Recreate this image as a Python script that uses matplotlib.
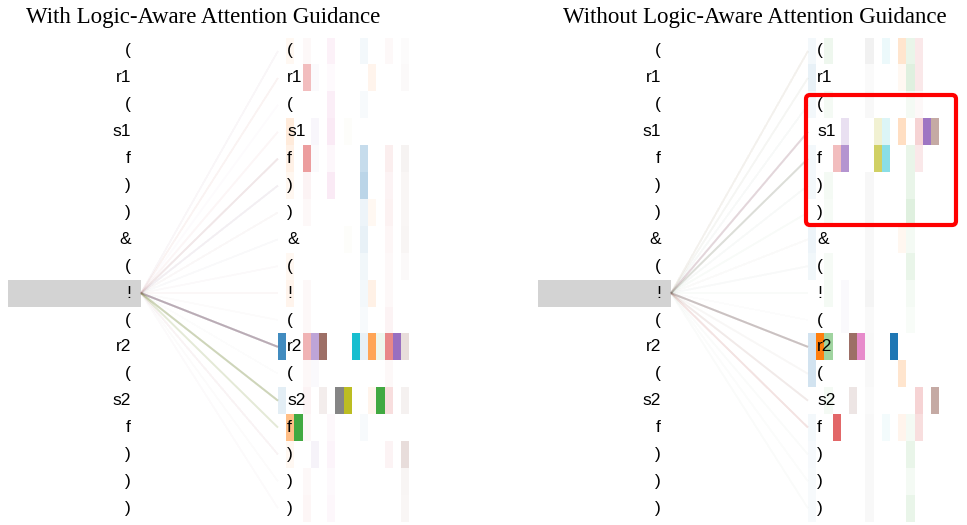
import matplotlib.pyplot as plt
from matplotlib.patches import Rectangle, FancyBboxPatch

plt.rcParams['font.family'] = ['Liberation Sans', 'DejaVu Sans']

tokens = ["(", "r1", "(", "s1", "f", ")", ")", "&", "(", "!", "(", "r2", "(", "s2", "f", ")", ")", ")"]
query = 9
titles = ["With Logic-Aware Attention Guidance", "Without Logic-Aware Attention Guidance"]
head_colors = ['#1f77b4', '#ff7f0e', '#2ca02c', '#d62728', '#9467bd',
               '#8c564b', '#e377c2', '#7f7f7f', '#bcbd22', '#17becf']

# attention from "!" to every token, 16 heads (rows = key tokens)
attn_with = [
    [0, .05, 0, .03, 0, 0, .1, 0, 0, 0, .05, 0, 0, .03, 0, .02],
    [0, 0, 0, .3, .03, 0, .03, 0, 0, 0, 0, .08, 0, 0, 0, .03],
    [0, 0, 0, 0, 0, 0, .12, 0, 0, 0, .03, 0, 0, 0, 0, 0],
    [0, .15, 0, 0, .06, 0, .15, 0, .02, 0, 0, 0, 0, 0, 0, 0],
    [0, .1, 0, .45, .03, 0, .06, 0, 0, 0, .25, 0, 0, .08, 0, .07],
    [0, .06, 0, .05, 0, 0, .15, 0, 0, 0, .3, 0, 0, .05, 0, .05],
    [0, 0, 0, .03, 0, 0, 0, 0, 0, 0, .08, .05, 0, .06, 0, .05],
    [0, 0, 0, 0, 0, 0, 0, 0, .02, 0, .1, 0, 0, .04, 0, .06],
    [0, .05, 0, 0, 0, 0, 0, 0, 0, 0, .06, 0, 0, .03, 0, .03],
    [0, .08, 0, .03, 0, 0, 0, 0, 0, 0, .05, .1, 0, .03, 0, 0],
    [0, 0, 0, .03, 0, 0, 0, 0, 0, 0, .03, 0, 0, .05, 0, 0],
    [.85, 0, 0, .35, .6, .85, 0, 0, 0, 1, .1, .7, .08, .55, .95, .2],
    [0, 0, 0, .03, .04, 0, 0, 0, 0, 0, 0, 0, 0, .03, 0, 0],
    [.12, 0, 0, .05, 0, .1, 0, .95, 1, 0, 0, .08, .9, .15, 0, .08],
    [0, .5, .9, .03, 0, 0, .05, 0, 0, 0, .03, 0, 0, 0, 0, 0],
    [0, .05, 0, 0, .08, 0, .08, 0, 0, 0, 0, 0, 0, .05, 0, .2],
    [0, 0, 0, .03, 0, 0, .04, 0, 0, 0, 0, 0, 0, 0, 0, .06],
    [0, 0, 0, .04, 0, 0, .06, 0, 0, 0, 0, 0, 0, 0, 0, .05],
]
attn_without = [
    [.05, 0, .08, 0, 0, 0, 0, .1, 0, .08, 0, .2, .1, .1, 0, 0],
    [.1, 0, 0, 0, 0, 0, 0, .03, 0, 0, 0, .05, .15, .1, 0, 0],
    [.05, 0, .05, 0, 0, 0, 0, .05, 0, 0, 0, 0, .05, .03, 0, 0],
    [0, 0, 0, 0, .2, 0, 0, 0, .2, .15, 0, .25, 0, .2, .9, .5],
    [.05, 0, 0, .3, .7, 0, 0, 0, .7, .5, 0, 0, .1, .1, 0, 0],
    [.05, 0, .05, 0, 0, 0, 0, .06, 0, 0, 0, 0, .1, 0, 0, 0],
    [0, 0, .04, 0, 0, 0, 0, .06, 0, 0, 0, 0, .15, 0, 0, 0],
    [.08, 0, 0, 0, 0, 0, 0, .05, 0, 0, 0, .06, .05, 0, 0, 0],
    [.06, 0, .04, 0, 0, 0, 0, .05, 0, 0, 0, 0, .1, 0, 0, 0],
    [0, 0, .05, 0, .04, 0, 0, .08, 0, 0, 0, 0, .05, 0, 0, 0],
    [0, 0, 0, 0, .04, 0, 0, .04, 0, 0, 0, 0, .03, 0, 0, 0],
    [.2, 1, .45, 0, 0, .85, .85, .05, 0, 0, 1, 0, 0, 0, 0, 0],
    [.2, 0, 0, 0, 0, 0, 0, .05, 0, 0, 0, .2, 0, 0, 0, 0],
    [0, 0, .05, 0, 0, .15, 0, .03, 0, 0, 0, 0, 0, .2, 0, .5],
    [.05, 0, 0, .7, 0, 0, 0, .05, 0, .05, 0, .08, .05, .15, 0, 0],
    [.04, 0, 0, 0, 0, 0, 0, .05, 0, 0, 0, 0, .1, 0, 0, 0],
    [.03, 0, 0, 0, 0, 0, 0, .05, 0, 0, 0, 0, .05, 0, 0, 0],
    [.03, 0, 0, 0, 0, 0, 0, .05, 0, 0, 0, 0, .1, 0, 0, 0],
]

W, H = 967, 525
fig = plt.figure(figsize=(W / 100, H / 100), dpi=100)
ax = fig.add_axes([0, 0, 1, 1])
ax.set_xlim(0, W)
ax.set_ylim(H, 0)
ax.axis('off')

y0, pitch = 51, 26.9
bw = 8.2
panels = [(0, attn_with), (530, attn_without)]
title_x = [203, 755]

for p, (off, attn) in enumerate(panels):
    ax.text(title_x[p], 17, titles[p], ha='center', va='center',
            fontsize=16.5, family='Liberation Serif')
    left_x = off + 141
    right_x = off + 278
    qy = y0 + query * pitch
    ax.add_patch(Rectangle((off + 8, qy - pitch / 2), 133, pitch,
                           color='#d3d3d3', lw=0, zorder=1))
    for i, tok in enumerate(tokens):
        y = y0 + i * pitch
        ax.text(off + 131, y, tok, ha='right', va='center', fontsize=12.5, zorder=5)
        ax.text(off + 287, y, tok, ha='left', va='center', fontsize=12.5, zorder=5)
        for h, a in enumerate(attn[i]):
            if a <= 0:
                continue
            c = head_colors[h % 10]
            ax.add_patch(Rectangle((right_x + h * bw, y - pitch / 2), bw, pitch,
                                   color=c, alpha=a, lw=0, zorder=2))
            ax.plot([left_x, right_x], [qy, y], color=c, alpha=min(1, a * 0.12),
                    lw=1.4, zorder=3, solid_capstyle='butt')

# highlight box on the right panel
ax.add_patch(FancyBboxPatch((806, 95), 150, 130,
                            boxstyle='round,pad=0,rounding_size=4',
                            fill=False, ec='#ff0000', lw=3, zorder=6))

fig.savefig('out.png', dpi=100)
